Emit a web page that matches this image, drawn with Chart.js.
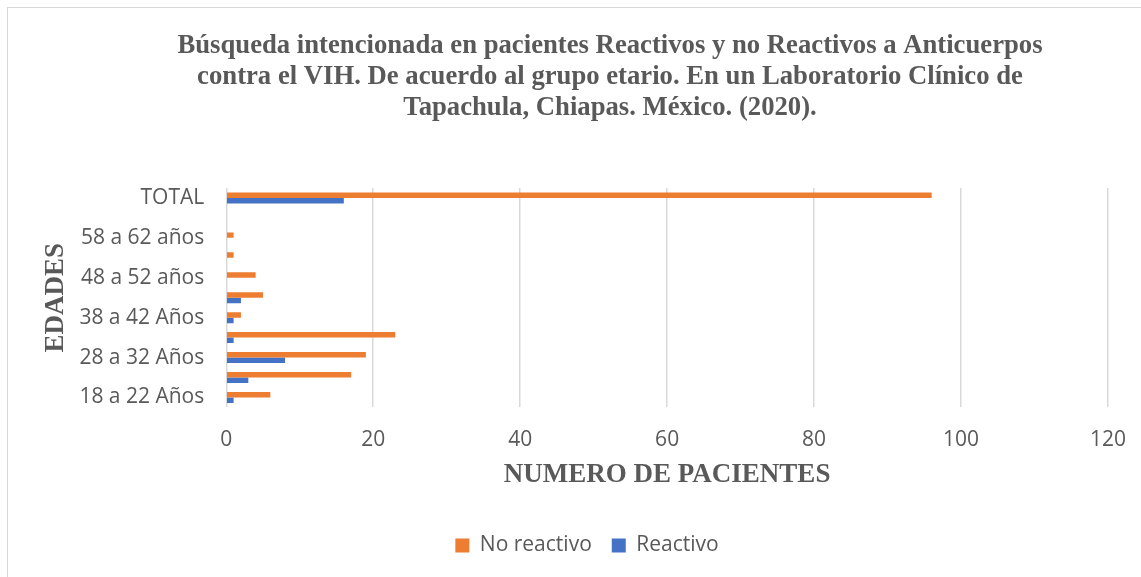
<!DOCTYPE html>
<html>
<head>
<meta charset="utf-8">
<script src="https://cdn.jsdelivr.net/npm/chart.js@4"></script>
<style>
  body { margin: 0; background: #fff; overflow: hidden; }
  #wrap { position: relative; width: 1141px; height: 577px; }
  #frame { position: absolute; left: 7px; top: 7px; width: 1140px; height: 576px; border: 1px solid #d9d9d9; box-sizing: border-box; pointer-events: none; }
</style>
</head>
<body>
<div id="wrap">
  <canvas id="chart" width="1141" height="577"></canvas>
  <div id="frame"></div>
</div>
<script>
// categories listed top to bottom, as drawn
const edades = ['TOTAL', '63 a 67 años', '58 a 62 años', '53 a 57 años', '48 a 52 años', '43 a 47 Años',
                '38 a 42 Años', '33 a 37 Años', '28 a 32 Años', '23 a 27 Años', '18 a 22 Años'];
const noReactivo = [96, 0, 1, 1, 4, 5, 2, 23, 19, 17, 6];
const reactivo   = [16, 0, 0, 0, 0, 2, 1, 1, 8, 3, 1];
const xTicks = [0, 20, 40, 60, 80, 100, 120];
const titulo = [
    'Búsqueda intencionada en pacientes Reactivos y no Reactivos a Anticuerpos',
    'contra el VIH. De acuerdo al grupo etario. En un Laboratorio Clínico de',
    'Tapachula, Chiapas. México. (2020).'
];

const gris = '#595959';
const sans = "'Open Sans', sans-serif";
const serif = "'Liberation Serif', 'Times New Roman', serif";

// title drawn by hand so it can sit off the canvas centre like the original
const tituloPlugin = {
    id: 'tituloPlugin',
    afterDraw(chart) {
        const ctx = chart.ctx;
        ctx.save();
        ctx.fillStyle = gris;
        ctx.font = 'bold 26.7px ' + serif;
        ctx.textAlign = 'center';
        ctx.textBaseline = 'middle';
        titulo.forEach(function(line, i) {
            ctx.fillText(line, 610, 46 + i * 31);
        });
        ctx.restore();
    }
};

const ctx = document.getElementById('chart').getContext('2d');
new Chart(ctx, {
    type: 'bar',
    data: {
        labels: edades,
        datasets: [{
            label: 'No reactivo',
            data: noReactivo,
            backgroundColor: '#ED7D31',
            categoryPercentage: 0.55,
            barPercentage: 1
        }, {
            label: 'Reactivo',
            data: reactivo,
            backgroundColor: '#4472C4',
            categoryPercentage: 0.55,
            barPercentage: 1
        }]
    },
    options: {
        indexAxis: 'y',
        responsive: false,
        animation: false,
        // left padding is wide so the legend centres where the original has it
        layout: { padding: { top: 188, left: 66, right: 33, bottom: 11 } },
        scales: {
            x: {
                min: 0,
                max: 120,
                afterBuildTicks: function(scale) {
                    scale.ticks = xTicks.map(function(v) { return { value: v }; });
                },
                afterFit: function(scale) {
                    scale.paddingRight = 0;
                },
                grid: { color: '#d9d9d9', lineWidth: 1.5, drawTicks: false },
                border: { display: false },
                ticks: { color: gris, font: { family: sans, size: 21 }, padding: 20 },
                title: {
                    display: true,
                    text: 'NUMERO DE PACIENTES',
                    color: gris,
                    font: { family: serif, size: 27, weight: 'bold' },
                    padding: { top: -14, bottom: 24 }
                }
            },
            y: {
                grid: { display: false, drawTicks: false },
                border: { display: false },
                ticks: {
                    autoSkip: false,
                    color: gris,
                    font: { family: sans, size: 21 },
                    padding: 22,
                    callback: function(val, i) {
                        return i % 2 === 0 ? this.getLabelForValue(val) : '';
                    }
                },
                title: {
                    display: true,
                    text: 'EDADES',
                    color: gris,
                    font: { family: serif, size: 27, weight: 'bold' },
                    padding: { top: -26, bottom: -15 }
                }
            }
        },
        plugins: {
            legend: {
                position: 'bottom',
                labels: {
                    color: gris,
                    font: { family: sans, size: 21 },
                    boxWidth: 14,
                    boxHeight: 14,
                    padding: 20
                }
            },
            tooltip: { enabled: false }
        }
    },
    plugins: [tituloPlugin]
});
</script>
</body>
</html>
